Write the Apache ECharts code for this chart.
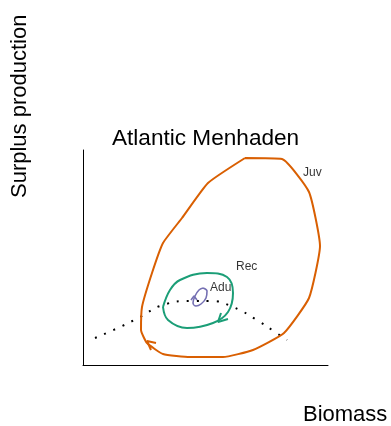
<!DOCTYPE html>
<html>
<head>
<meta charset="utf-8">
<script src="https://cdn.jsdelivr.net/npm/echarts@6/dist/echarts.min.js"></script>
<style>html,body{margin:0;padding:0;background:#fff}#c{width:391px;height:426px}</style>
</head>
<body>
<div id="c"></div>
<script>
// Data (arbitrary biomass / surplus production units)
const juvLoop = [[162,207],[199,206],[226,173],[237,119],[226,67],[201,32],[170,15],[140,8],[107,8],[80,11],[64,22],[58,35],[59,58],[69,92],[80,122],[99,147],[125,182],[162,207]];
const juvArrow = [[73,22],[64,24],[68,15]];
const recLoop = [[80,58],[87,75],[97,85],[124,92],[144,88],[150,72],[145,53],[130,42],[104,37],[85,45],[80,58]];
const recArrow = [[145,46],[135,43],[138,52]];
const aduLoop = [[120,77],[124,74],[123,67],[118,61],[113,59],[110,62],[112,69],[116,75],[120,77]];
const aduArrow = [[108,65],[111,69],[114,65]];
const eqCurve = [[12,27],[37,38],[57,48],[80,60],[107,64],[127,64],[150,58],[177,43],[192,33],[204,25]];
const stageLabels = [{name:'Juv', value:[220,192]},{name:'Rec', value:[153,98]},{name:'Adu', value:[127,77]}];

const ORANGE = '#D95F02', GREEN = '#1B9E77', PURPLE = '#7570B3';
const FONT = 'Liberation Sans, Arial, Helvetica, sans-serif';

const chart = echarts.init(document.getElementById('c'), null, {renderer:'canvas'});
function loop(data, color, width, smooth) {
  return {type:'line', data, symbol:'none', smooth: smooth, lineStyle:{color, width}, silent:true, animation:false};
}
chart.setOption({
  animation:false,
  backgroundColor:'#fff',
  title:{text:'Atlantic Menhaden', left:112, top:127, padding:0,
    textStyle:{fontFamily:FONT, fontSize:22.6, fontWeight:'normal', color:'#000'}},
  grid:{left:83, top:150, width:245, height:215, containLabel:false},
  xAxis:{type:'value', min:0, max:245, axisLine:{show:true, onZero:false, lineStyle:{color:'#000', width:1}},
    axisTick:{show:false}, axisLabel:{show:false}, splitLine:{show:false}},
  yAxis:{type:'value', min:0, max:215, axisLine:{show:true, onZero:false, lineStyle:{color:'#000', width:1}},
    axisTick:{show:false}, axisLabel:{show:false}, splitLine:{show:false}},
  graphic:[
    {type:'text', left:303, top:404, style:{text:'Biomass', font:'22px ' + FONT, fill:'#000'}},
    {type:'text', x:9, y:198, rotation:Math.PI/2, style:{text:'Surplus production', font:'22px ' + FONT, fill:'#000', textBaseline:'top'}}
  ],
  series:[
    {type:'line', data:eqCurve, symbol:'none', smooth:true, lineStyle:{color:'#000', width:2, type:[2,8]}},
    loop(juvLoop, ORANGE, 2, 0.15),
    loop(juvArrow, ORANGE, 2, false),
    loop(recLoop, GREEN, 2, 0.4),
    loop(recArrow, GREEN, 2, false),
    loop(aduLoop, PURPLE, 1.6, 0.4),
    loop(aduArrow, PURPLE, 1.6, false),
    {type:'scatter', data:stageLabels, symbolSize:0,
      label:{show:true, position:'right', distance:0, formatter:p=>p.name, fontFamily:FONT, fontSize:12, color:'#000'}}
  ]
});
</script>
</body>
</html>
